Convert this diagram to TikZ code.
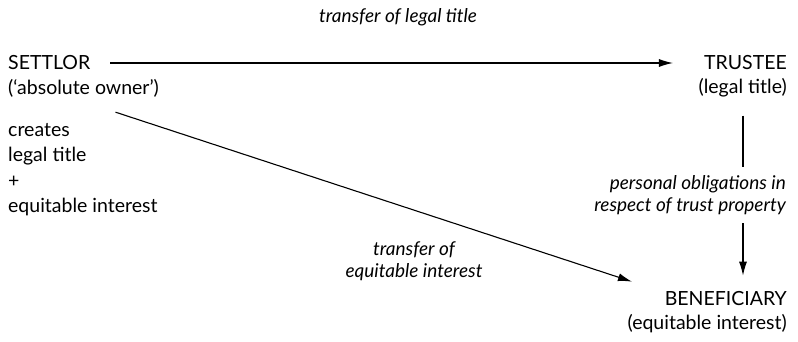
\documentclass[tikz,border=0pt]{standalone}
\usepackage{fontspec}
\setmainfont{Lato}
\usetikzlibrary{arrows.meta, positioning}

\tikzset{
  party/.style={inner sep=0pt, font=\fontsize{19.5}{25}\selectfont},
  howto/.style={inner sep=0pt, font=\fontsize{19}{22}\selectfont\itshape},
  link/.style={-{Latex[length=14pt, width=8pt]}, line width=1.1pt, black},
}

\begin{document}
\begin{tikzpicture}[x=1pt, y=-1pt, >=Latex]
    \useasboundingbox (0,0) rectangle (798,342);

    % the three parties
    \node[party, anchor=west] (settlor) at (8,63) {SETTLOR};
    \node[party, anchor=west] (settlorrole) at (8,88) {(`absolute owner')};
    \node[party, anchor=east] (trustee) at (787,63) {TRUSTEE};
    \node[party, anchor=east] (trusteerole) at (787,88) {(legal title)};
    \node[party, anchor=east] (benef) at (787,299) {BENEFICIARY};
    \node[party, anchor=east] (benefrole) at (787,324) {(equitable interest)};

    \node[party, anchor=north west, align=left, font=\fontsize{19.5}{25.5}\selectfont] (creates) at (8,123)
        {creates\\legal title\\+\\equitable interest};

    % transfers
    \draw[link] ([xshift=20pt]settlor.east) -- ([xshift=-31pt]trustee.west);
    \node[howto] (legalxfer) at (398,17) {transfer of legal title};
    \draw[link] ([shift={(32pt,-15pt)}]settlorrole.south) -- ([shift={(-155pt,10pt)}]benef.north east);
    \node[howto, align=center] (equityxfer) at (414,261) {transfer of\\equitable interest};
    \draw[link] ([shift={(-44pt,-18pt)}]trusteerole.south east) -- ([shift={(-44pt,16pt)}]benef.north east);
    \node[howto, fill=white, anchor=east, align=right, inner ysep=8pt] (duties) at (786,195)
        {personal obligations in\\respect of trust property};
\end{tikzpicture}
\end{document}
